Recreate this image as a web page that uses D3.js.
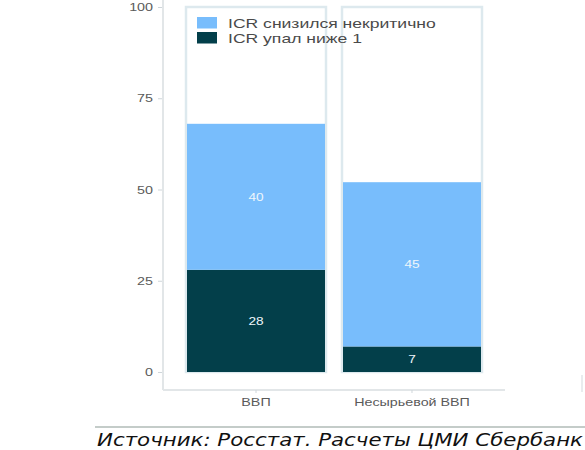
<!DOCTYPE html>
<html><head><meta charset="utf-8">
<script src="https://cdn.jsdelivr.net/npm/d3@7"></script>
<style>body{margin:0;background:#fff}svg{display:block}</style>
</head><body>
<script>
const categories = ["ВВП", "Несырьевой ВВП"];
const seriesNames = ["ICR упал ниже 1", "ICR снизился некритично"];
const below1 = [28, 7];
const moderate = [40, 45];
const yTicks = [0, 25, 50, 75, 100];
const source = "Источник: Росстат. Расчеты ЦМИ Сбербанк";
const colors = ["#033f4a", "#78bdfc"];

const W = 585, H = 450;
const STRETCH = 1.3;
const svg = d3.select("body").append("svg").attr("width", W).attr("height", H);
function stretch(sel) {
  sel.each(function() {
    const w = this.getComputedTextLength();
    d3.select(this).attr("textLength", w * STRETCH).attr("lengthAdjust", "spacingAndGlyphs");
  });
}
const y = d3.scaleLinear().domain([0, 100]).range([372, 7]);
const x = d3.scaleBand().domain(categories).range([169, 499]).paddingInner(0.1154).paddingOuter(0.1154);

// axis lines
svg.append("line").attr("x1", 163).attr("x2", 163).attr("y1", 0).attr("y2", 390).attr("stroke", "#e2e6e8").attr("stroke-width", 2);
svg.append("line").attr("x1", 163).attr("x2", 505).attr("y1", 390).attr("y2", 390).attr("stroke", "#e2e6e8").attr("stroke-width", 2);

const yAxis = d3.axisLeft(y).tickValues(yTicks).tickSize(4).tickPadding(5);
const gy = svg.append("g").attr("transform", "translate(162,0)").call(yAxis);
gy.select(".domain").remove();
gy.selectAll(".tick line").attr("stroke", "#cfd6da");
gy.selectAll("text").attr("fill", "#5a5a5a").style("font-family", "Liberation Sans, Arial, sans-serif").style("font-size", "11px").call(stretch);

const xAxis = d3.axisBottom(x).tickSize(3).tickPadding(5);
const gx = svg.append("g").attr("transform", "translate(0,390)").call(xAxis);
gx.select(".domain").remove();
gx.selectAll(".tick line").attr("stroke", "#cfd6da");
gx.selectAll("text").attr("fill", "#5a5a5a").style("font-family", "Liberation Sans, Arial, sans-serif").style("font-size", "11px").call(stretch);

// background full bars
svg.selectAll(".bg").data(categories).enter().append("rect")
  .attr("x", d => x(d) - 1).attr("width", x.bandwidth() + 2)
  .attr("y", y(100)).attr("height", y(0) - y(100))
  .attr("fill", "#fff").attr("stroke", "#dde9ee").attr("stroke-width", 2.5);

// stacked
const rows = categories.map((c, i) => ({cat: c, below: below1[i], mod: moderate[i]}));
const stack = d3.stack().keys(["below", "mod"])(rows);
const layers = svg.selectAll(".layer").data(stack).enter().append("g").attr("fill", (d, i) => colors[i]);
layers.selectAll("rect").data(d => d).enter().append("rect")
  .attr("x", d => x(d.data.cat)).attr("width", x.bandwidth())
  .attr("y", d => y(d[1])).attr("height", d => y(d[0]) - y(d[1]));
layers.selectAll("text").data(d => d.map(v => ({v, key: d.key}))).enter().append("text")
  .attr("x", d => x(d.v.data.cat) + x.bandwidth() / 2)
  .attr("y", d => (y(d.v[0]) + y(d.v[1])) / 2 + 4)
  .attr("text-anchor", "middle").attr("fill", "#eef6fb")
  .style("font-family", "Liberation Sans, Arial, sans-serif").style("font-size", "10.5px")
  .text(d => d.v.data[d.key]).call(stretch);

// legend
const legend = [seriesNames[1], seriesNames[0]];
const legColors = [colors[1], colors[0]];
const lg = svg.append("g").attr("transform", "translate(197,17)");
legend.forEach((n, i) => {
  lg.append("rect").attr("x", 0).attr("y", i * 15).attr("width", 20).attr("height", 11.5).attr("fill", legColors[i]);
  lg.append("text").attr("x", 31).attr("y", i * 15 + 10.5).text(n).attr("fill", "#4a4a4a")
    .style("font-family", "Liberation Sans, Arial, sans-serif").style("font-size", "13.5px").call(stretch);
});

// source
svg.append("line").attr("x1", 95).attr("x2", 585).attr("y1", 427).attr("y2", 427).attr("stroke", "#8a9a94").attr("stroke-width", 1.2);
svg.append("text").attr("x", 97).attr("y", 446).text(source)
  .attr("fill", "#111").attr("textLength", 486).attr("lengthAdjust", "spacingAndGlyphs")
  .style("font-family", "DejaVu Sans, sans-serif").style("font-style", "italic").style("font-size", "17px");
svg.append("line").attr("x1", 582).attr("x2", 582).attr("y1", 375).attr("y2", 392).attr("stroke", "#e2e6e8").attr("stroke-width", 1.5);
</script>
</body></html>
